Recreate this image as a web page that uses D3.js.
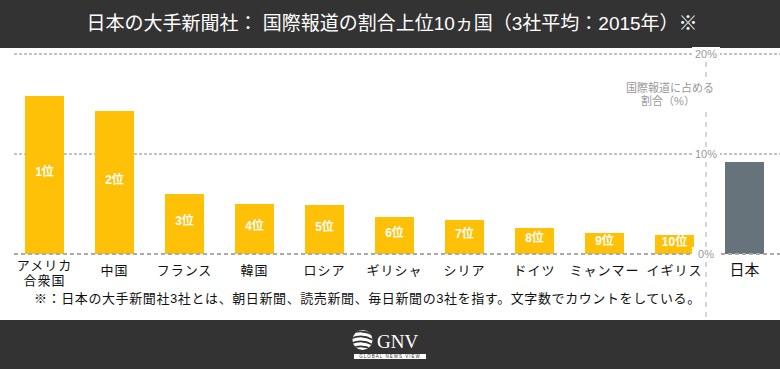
<!DOCTYPE html>
<html>
<head>
<meta charset="utf-8">
<script src="https://cdn.jsdelivr.net/npm/d3@7"></script>
<style>
  body { margin: 0; background: #fff; }
  svg { display: block; font-family: "Liberation Sans", "Noto Sans CJK JP", sans-serif; }
</style>
</head>
<body>
<div id="chart"></div>
<script>
// Data
const categories = ["アメリカ\n合衆国", "中国", "フランス", "韓国", "ロシア", "ギリシャ", "シリア", "ドイツ", "ミャンマー", "イギリス", "日本"];
const shares = [15.8, 14.3, 6.0, 5.0, 4.9, 3.7, 3.4, 2.6, 2.1, 1.9, 9.2];
const ranks = ["1位", "2位", "3位", "4位", "5位", "6位", "7位", "8位", "9位", "10位", ""];
const yTicks = [0, 10, 20];

const width = 780, height = 369;

const svg = d3.select('#chart')
    .append('svg')
    .attr('width', width)
    .attr('height', height);

// Title bar and footer bar
svg.append('rect').attr('x', 0).attr('y', 0).attr('width', width).attr('height', 48).attr('fill', '#333');
svg.append('text')
    .attr('x', 392).attr('y', 23)
    .attr('text-anchor', 'middle')
    .attr('dominant-baseline', 'central')
    .attr('fill', '#fff')
    .attr('font-size', 19)
    .text('日本の大手新聞社： 国際報道の割合上位10ヵ国（3社平均：2015年）※');

svg.append('rect').attr('x', 0).attr('y', 320).attr('width', width).attr('height', 49).attr('fill', '#333');

// Scales
const x = d3.scaleBand()
    .domain(categories)
    .range([9.5, 779.5])
    .paddingInner(0.443)
    .paddingOuter(0.2215);

const y = d3.scaleLinear()
    .domain([0, 20])
    .range([254, 54]);

const axisX = 706;

// Vertical separator before Japan
svg.append('line')
    .attr('x1', axisX).attr('x2', axisX)
    .attr('y1', 62).attr('y2', 320)
    .attr('stroke', '#aaa')
    .attr('stroke-dasharray', '5,5');

// Upper gridlines (behind bars)
svg.selectAll('.grid')
    .data(yTicks.filter(d => d > 0))
    .enter()
    .append('line')
    .attr('class', 'grid')
    .attr('x1', 14).attr('x2', width)
    .attr('y1', d => y(d)).attr('y2', d => y(d))
    .attr('stroke', '#888')
    .attr('stroke-dasharray', '3,2');

// Bars
svg.selectAll('.bar')
    .data(categories)
    .enter()
    .append('rect')
    .attr('class', 'bar')
    .attr('x', d => x(d))
    .attr('width', x.bandwidth())
    .attr('y', (d, i) => y(shares[i]))
    .attr('height', (d, i) => y(0) - y(shares[i]))
    .attr('fill', (d, i) => i === categories.length - 1 ? '#66737a' : '#ffc107');

// Rank labels inside bars
svg.selectAll('.rank')
    .data(categories)
    .enter()
    .append('text')
    .attr('class', 'rank')
    .attr('x', d => x(d) + x.bandwidth() / 2)
    .attr('y', (d, i) => (y(shares[i]) + y(0)) / 2 + 1)
    .attr('text-anchor', 'middle')
    .attr('fill', '#fff')
    .attr('font-size', 12)
    .attr('font-weight', 'bold')
    .text((d, i) => ranks[i]);

// Baseline on top of bars
svg.append('line')
    .attr('x1', 14).attr('x2', width)
    .attr('y1', y(0)).attr('y2', y(0))
    .attr('stroke', '#aaa')
    .attr('stroke-width', 2)
    .attr('stroke-dasharray', '4,3');

// Tick labels with white background on the separator
const tickG = svg.selectAll('.tick')
    .data(yTicks)
    .enter()
    .append('g')
    .attr('class', 'tick')
    .attr('transform', d => `translate(${axisX},${y(d)})`);
tickG.append('rect')
    .attr('x', -14).attr('y', -7).attr('width', 28).attr('height', 14)
    .attr('fill', '#fff');
tickG.append('text')
    .attr('text-anchor', 'middle')
    .attr('dominant-baseline', 'central')
    .attr('fill', '#999')
    .attr('font-size', 11)
    .text(d => d + '%');

// Axis annotation
svg.append('rect').attr('x', 622).attr('y', 78).attr('width', 98).attr('height', 30).attr('fill', '#fff');
svg.append('text')
    .attr('x', 670).attr('y', 92)
    .attr('text-anchor', 'middle')
    .attr('fill', '#999')
    .attr('font-size', 11)
    .text('国際報道に占める');
svg.append('text')
    .attr('x', 668).attr('y', 105)
    .attr('text-anchor', 'middle')
    .attr('fill', '#999')
    .attr('font-size', 11)
    .text('割合（%）');

// Category labels
const catText = svg.selectAll('.cat')
    .data(categories)
    .enter()
    .append('text')
    .attr('class', 'cat')
    .attr('x', d => x(d) + x.bandwidth() / 2)
    .attr('y', d => d.includes('\n') ? 270 : 275)
    .attr('text-anchor', 'middle')
    .attr('fill', '#111')
    .attr('font-size', (d, i) => i === categories.length - 1 ? 15 : 13)
    .attr('letter-spacing', (d, i) => i === categories.length - 1 ? 0 : 1);
catText.selectAll('tspan')
    .data(d => d.split('\n'))
    .enter()
    .append('tspan')
    .attr('x', function () { return d3.select(this.parentNode).attr('x'); })
    .attr('dy', (d, i) => i === 0 ? 0 : 15)
    .text(d => d);

// Footnote
svg.append('text')
    .attr('x', 34).attr('y', 303)
    .attr('fill', '#111')
    .attr('font-size', 13)
    .attr('letter-spacing', 0.6)
    .text('※：日本の大手新聞社3社とは、朝日新聞、読売新聞、毎日新聞の3社を指す。文字数でカウントをしている。');

// GNV logo
const logo = svg.append('g');
const clip = svg.append('clipPath').attr('id', 'globe-clip');
clip.append('circle').attr('cx', 362.5).attr('cy', 340).attr('r', 10);
logo.append('circle').attr('cx', 362.5).attr('cy', 340).attr('r', 10).attr('fill', '#fff');
const stripes = logo.append('g').attr('clip-path', 'url(#globe-clip)');
[-6, -1, 4, 9].forEach(o => {
    stripes.append('path')
        .attr('d', `M350,${340 + o} Q362,${334 + o} 375,${342 + o}`)
        .attr('fill', 'none')
        .attr('stroke', '#333')
        .attr('stroke-width', 1.6);
});
logo.append('text')
    .attr('x', 377).attr('y', 348)
    .attr('fill', '#fff')
    .attr('font-family', '"Liberation Serif", "DejaVu Serif", serif')
    .attr('font-size', 19)
    .text('GNV');
logo.append('rect').attr('x', 354).attr('y', 354).attr('width', 72).attr('height', 5).attr('fill', '#fff');
logo.append('text')
    .attr('x', 390).attr('y', 358.2)
    .attr('text-anchor', 'middle')
    .attr('fill', '#333')
    .attr('font-size', 4.5)
    .attr('letter-spacing', 1)
    .text('GLOBAL NEWS VIEW');
</script>
</body>
</html>
